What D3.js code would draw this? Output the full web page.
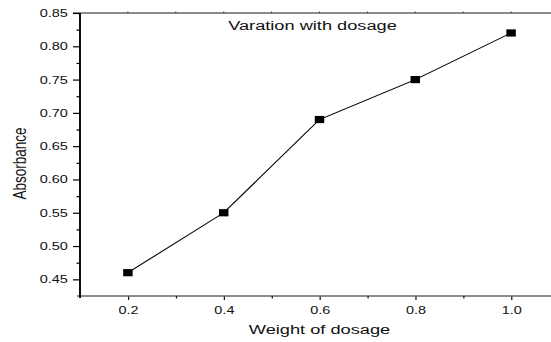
<!DOCTYPE html>
<html><head><meta charset="utf-8">
<script src="https://cdn.jsdelivr.net/npm/d3@7"></script>
<style>html,body{margin:0;padding:0;background:#fff;overflow:hidden}svg{display:block}</style>
</head><body>
<div id="chart"></div>
<script>
const weights = [0.2, 0.4, 0.6, 0.8, 1.0];
const absorbance = [0.46, 0.55, 0.69, 0.75, 0.82];
const xTickValues = [0.2, 0.4, 0.6, 0.8, 1.0];
const xTickLabels = ["0.2", "0.4", "0.6", "0.8", "1.0"];
const xMinorTicks = [0.3, 0.5, 0.7, 0.9];
const yTickValues = [0.45, 0.50, 0.55, 0.60, 0.65, 0.70, 0.75, 0.80, 0.85];
const yTickLabels = ["0.45", "0.50", "0.55", "0.60", "0.65", "0.70", "0.75", "0.80", "0.85"];
const yMinorTicks = [0.475, 0.525, 0.575, 0.625, 0.675, 0.725, 0.775, 0.825];
const titleText = "Varation with dosage";
const xTitle = "Weight of dosage";
const yTitle = "Absorbance";

const W = 551, H = 342, S = 1.35; // horizontal stretch of the original image
const VW = W / S;
const svg = d3.select("#chart").append("svg")
  .attr("width", W).attr("height", H)
  .attr("viewBox", `0 0 ${VW} ${H}`)
  .attr("preserveAspectRatio", "none")
  .style("font-family", "'Liberation Sans', Arial, sans-serif");

const x = d3.scaleLinear().domain([0.1, 1.1]).range([80 / S, 559 / S]);
const y = d3.scaleLinear().domain([0.425, 0.85]).range([296, 13]);
const x0 = x(0.1), y0 = y(0.425), yTop = y(0.85);

// top frame line
svg.append("line").attr("x1", 73 / S).attr("x2", VW).attr("y1", yTop).attr("y2", yTop)
  .attr("stroke", "#666").attr("stroke-width", 1.3);
// small ticks on top frame
svg.selectAll(".tt").data(xTickValues.concat(xMinorTicks)).join("line")
  .attr("x1", d => x(d)).attr("x2", d => x(d)).attr("y1", yTop).attr("y2", yTop - 1.5)
  .attr("stroke", "#444").attr("stroke-width", 0.8);

// bottom axis
const gx = svg.append("g").attr("transform", `translate(0,${y0})`)
  .call(d3.axisBottom(x).tickValues(xTickValues).tickFormat((d, i) => xTickLabels[i])
    .tickSizeInner(4).tickSizeOuter(0).tickPadding(6));
gx.select(".domain").remove();
gx.append("line").attr("x1", 77 / S).attr("x2", VW).attr("y1", 0).attr("y2", 0)
  .attr("stroke", "#666").attr("stroke-width", 1.3);
gx.selectAll(".tick line").attr("stroke", "#111").attr("stroke-width", 0.9);
gx.selectAll(".tick text").attr("fill", "#111").style("font-size", "10.7px")
  .style("font-family", "'Liberation Sans', Arial, sans-serif");
const gxm = svg.append("g").attr("transform", `translate(0,${y0})`)
  .call(d3.axisBottom(x).tickValues(xMinorTicks).tickFormat("").tickSizeInner(2.5).tickSizeOuter(0));
gxm.select(".domain").remove();
gxm.selectAll(".tick line").attr("stroke", "#111").attr("stroke-width", 0.9);

// left axis
const gy = svg.append("g").attr("transform", `translate(${x0},0)`)
  .call(d3.axisLeft(y).tickValues(yTickValues).tickFormat((d, i) => yTickLabels[i])
    .tickSizeInner(7 / S).tickSizeOuter(0).tickPadding(3.9));
gy.select(".domain").remove();
gy.selectAll(".tick line").attr("stroke", "#000").attr("stroke-width", 1.2);
gy.selectAll(".tick text").attr("fill", "#111").style("font-size", "10.7px")
  .style("font-family", "'Liberation Sans', Arial, sans-serif");
const gym = svg.append("g").attr("transform", `translate(${x0},0)`)
  .call(d3.axisLeft(y).tickValues(yMinorTicks).tickFormat("").tickSizeInner(3.5 / S).tickSizeOuter(0));
gym.select(".domain").remove();
gym.selectAll(".tick line").attr("stroke", "#000").attr("stroke-width", 1.2);
gy.append("line").attr("x1", 0).attr("x2", 0).attr("y1", yTop).attr("y2", y0 + 2)
  .attr("stroke", "#000").attr("stroke-width", 1.4);

// data line
const pts = weights.map((w, i) => [w, absorbance[i]]);
svg.append("path").datum(pts)
  .attr("d", d3.line().x(d => x(d[0])).y(d => y(d[1])))
  .attr("fill", "none").attr("stroke", "#000").attr("stroke-width", 1);
svg.selectAll(".pt").data(pts).join("rect")
  .attr("x", d => x(d[0]) - 3.5).attr("y", d => y(d[1]) - 3.6)
  .attr("width", 7).attr("height", 7.2).attr("fill", "#000");

// titles
svg.append("text").attr("x", 312.5 / S).attr("y", 30.5).attr("text-anchor", "middle")
  .style("font-size", "13.5px").attr("fill", "#111").text(titleText);
svg.append("text").attr("x", x(0.6)).attr("y", 334.5).attr("text-anchor", "middle")
  .style("font-size", "13.5px").attr("fill", "#111").text(xTitle);
svg.append("text").attr("transform", `translate(${25.5 / S},163.5) rotate(-90)`)
  .attr("text-anchor", "middle").style("font-size", "13.5px").attr("fill", "#111").text(yTitle);
</script>
</body></html>
